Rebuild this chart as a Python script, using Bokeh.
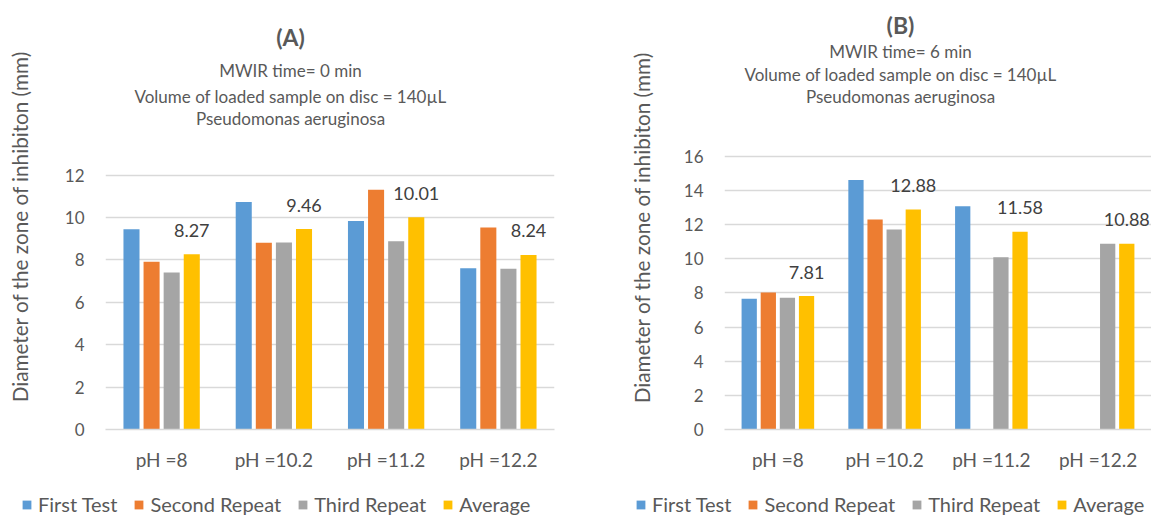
import math
import numpy as np
from bokeh.plotting import figure
from bokeh.models import (ColumnDataSource, FactorRange, Range1d, FixedTicker,
                          Label, Legend, LegendItem)
from bokeh.transform import dodge
from bokeh.layouts import row, column
from bokeh.core.properties import value
from bokeh.embed import file_html
from bokeh.resources import INLINE

NAN = float("nan")

# pH groups on the category axis
categories = ["pH =8", "pH =10.2", "pH =11.2", "pH =12.2"]
series_names = ["First Test", "Second Repeat", "Third Repeat", "Average"]

# (A) MWIR time = 0 min, inhibition zone diameter (mm)
first_a = [9.45, 10.74, 9.84, 7.61]
second_a = [7.91, 8.81, 11.31, 9.53]
third_a = [7.41, 8.82, 8.88, 7.58]
avg_a = [8.27, 9.46, 10.01, 8.24]

# (B) MWIR time = 6 min, inhibition zone diameter (mm)
first_b = [7.65, 14.60, 13.07, NAN]
second_b = [8.02, 12.29, NAN, NAN]
third_b = [7.71, 11.71, 10.08, 10.88]
avg_b = [7.81, 12.88, 11.58, 10.88]

Y_TITLE = "Diameter of the zone of inhibiton (mm)"

COLORS = ["#5B9BD5", "#ED7D31", "#A5A5A5", "#FFC000"]
TEXT = "#595959"
GRID = "#D9D9D9"
FONT = "Lato"

STEP = 0.179
BAR_W = 0.143
OFFSETS = [-1.5 * STEP, -0.5 * STEP, 0.5 * STEP, 1.5 * STEP]
CHART_H = 482
LEGEND_H = 34
FRAME_H = 429


def blank(width, height):
    """A plot with no axes or grid whose frame fills the whole canvas."""
    q = figure(width=width, height=height, x_range=Range1d(0, 1),
               y_range=Range1d(0, 1), output_backend="svg",
               toolbar_location=None, x_axis_location=None,
               y_axis_location=None, min_border=0)
    q.outline_line_color = None
    q.xgrid.grid_line_color = None
    q.ygrid.grid_line_color = None
    return q


def y_title_strip(width, x_center, y_center):
    # the strip's frame lines up with the neighbouring chart frame
    q = blank(width, CHART_H)
    q.add_layout(Label(x=x_center, y=FRAME_H - y_center, x_units="screen",
                       y_units="screen", text=Y_TITLE, angle=math.pi / 2,
                       text_align="center", text_baseline="middle",
                       text_font=FONT, text_font_size="20.7px",
                       text_color=TEXT))
    return q


def panel(title, subtitle_lines, series, y_max, tick_span_px, width, left,
          right, title_x, title_baselines):
    # the plotting frame reaches the top of the canvas so the headings sit
    # inside it; the top tick lands tick_span_px above the baseline
    y_end = y_max * FRAME_H / tick_span_px
    p = figure(width=width, height=CHART_H,
               x_range=FactorRange(*categories), y_range=Range1d(0, y_end),
               output_backend="svg", toolbar_location=None,
               min_border_left=left, min_border_right=right,
               min_border_top=0, min_border_bottom=CHART_H - FRAME_H)
    p.outline_line_color = None
    p.background_fill_color = "white"
    p.border_fill_color = "white"

    data = dict(cat=categories)
    for i, vals in enumerate(series):
        data[f"s{i}"] = np.array(vals, dtype=float)
    data["avg_text"] = [f"{v:.2f}" for v in series[3]]
    src = ColumnDataSource(data)

    for i in range(4):
        p.vbar(x=dodge("cat", OFFSETS[i], range=p.x_range), top=f"s{i}",
               width=BAR_W, source=src, fill_color=COLORS[i], line_color=None)

    # value labels above the Average bars
    p.text(x=dodge("cat", OFFSETS[3], range=p.x_range), y="s3", text="avg_text",
           source=src, text_font=value(FONT), text_font_size="18px",
           text_color="#404040", text_align="center",
           text_baseline="alphabetic", y_offset=-24)

    # axes
    p.yaxis.ticker = FixedTicker(ticks=list(range(0, y_max + 1, 2)))
    p.yaxis.axis_line_color = None
    p.yaxis.major_tick_line_color = None
    p.yaxis.minor_tick_line_color = None
    p.yaxis.major_tick_out = 0
    p.yaxis.minor_tick_out = 0
    p.yaxis.major_label_standoff = 21
    p.yaxis.major_label_text_font = FONT
    p.yaxis.major_label_text_font_size = "17px"
    p.yaxis.major_label_text_color = TEXT

    p.xaxis.axis_line_color = GRID
    p.xaxis.axis_line_width = 1.5
    p.xaxis.major_tick_line_color = None
    p.xaxis.minor_tick_line_color = None
    p.xaxis.major_tick_out = 0
    p.xaxis.minor_tick_out = 0
    p.xaxis.major_label_standoff = 18
    p.xaxis.major_label_text_font = FONT
    p.xaxis.major_label_text_font_size = "19px"
    p.xaxis.major_label_text_color = TEXT

    p.xgrid.grid_line_color = None
    p.ygrid.grid_line_color = GRID
    p.ygrid.grid_line_width = 1.5

    # chart heading and description lines
    p.add_layout(Label(x=title_x, y=FRAME_H - title_baselines[0],
                       x_units="screen", y_units="screen", text=title,
                       text_align="center", text_baseline="alphabetic",
                       text_font=FONT, text_font_style="bold",
                       text_font_size="23px", text_color=TEXT))
    for line, base in zip(subtitle_lines, title_baselines[1:]):
        p.add_layout(Label(x=title_x, y=FRAME_H - base,
                           x_units="screen", y_units="screen", text=line,
                           text_align="center", text_baseline="alphabetic",
                           text_font=FONT, text_font_size="17px",
                           text_color=TEXT))
    return p


def legend_strip(width, x0, spacing):
    # a slim plot that only carries the series key; its swatch renderers sit
    # outside the visible ranges
    q = blank(width, LEGEND_H)
    items = []
    for name, color in zip(series_names, COLORS):
        r = q.vbar(x=[5], top=[5], bottom=[4], width=0.1, fill_color=color,
                   line_color=None)
        items.append(LegendItem(label=name, renderers=[r]))
    q.add_layout(Legend(items=items, orientation="horizontal",
                        location=(x0, 0), label_text_font=FONT,
                        label_text_font_size="20px", label_text_color=TEXT,
                        glyph_width=11, glyph_height=11, label_standoff=6,
                        spacing=spacing, padding=0, margin=0,
                        border_line_color=None, background_fill_alpha=0),
                 "center")
    return q


p_a = panel("(A)",
            ["MWIR time= 0 min",
             "Volume of loaded sample on disc = 140\u00b5L",
             "Pseudomonas aeruginosa"],
            [first_a, second_a, third_a, avg_a], 12, 254.3, 535, 65, 21,
            185, [36, 70, 95.5, 117.5])

p_b = panel("(B)",
            ["MWIR time= 6 min",
             "Volume of loaded sample on disc = 140\u00b5L",
             "Pseudomonas aeruginosa"],
            [first_b, second_b, third_b, avg_b], 16, 273.3, 490, 63, 0,
            176, [24, 51, 74, 96])

top = row(y_title_strip(40, 19, 226), p_a, y_title_strip(86, 66, 227), p_b)
bottom = row(legend_strip(575, 21, 16), legend_strip(576, 60, 16))
layout = column(top, bottom)
open("out.html", "w").write(file_html(layout, INLINE))
